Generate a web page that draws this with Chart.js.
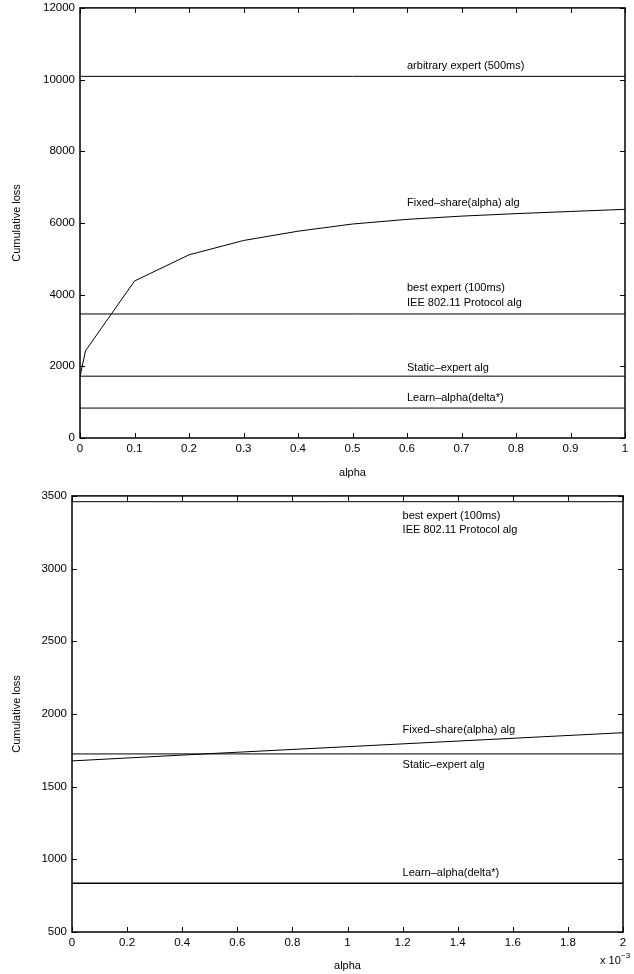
<!DOCTYPE html>
<html>
<head>
<meta charset="utf-8">
<script src="https://cdn.jsdelivr.net/npm/chart.js@4/dist/chart.umd.min.js"></script>
<style>
  body { margin: 0; background: #fff; width: 634px; height: 974px; overflow: hidden; position: relative; }
  .box { position: absolute; left: 0; width: 634px; }
</style>
</head>
<body>
<div class="box" style="top:-4px;height:494px"><canvas id="top"></canvas></div>
<div class="box" style="top:484px;height:490px"><canvas id="bot"></canvas></div>
<script>
// ---- data ----
// top panel: alpha in [0, 1]
const topAlpha      = [0, 0.01, 0.1, 0.2, 0.3, 0.4, 0.5, 0.6, 0.7, 0.8, 0.9, 1.0];
const topFixedShare = [1710, 2430, 4380, 5110, 5510, 5770, 5970, 6100, 6190, 6260, 6320, 6380];
const arbitraryExpert = 10090;   // 500ms expert
const bestExpert      = 3460;    // 100ms expert / 802.11
const staticExpert    = 1725;
const learnAlpha      = 835;

// bottom panel: alpha in [0, 2e-3]
const botAlpha      = [0, 0.0005, 0.001, 0.0015, 0.002];
const botFixedShare = [1677, 1727, 1775, 1823, 1871];

// annotations (data coords)
const topLabels  = ['arbitrary expert (500ms)', 'Fixed\u2013share(alpha) alg', 'best expert (100ms)',
                    'IEE 802.11 Protocol alg', 'Static\u2013expert alg', 'Learn\u2013alpha(delta*)'];
const topLabelX  = [0.6, 0.6, 0.6, 0.6, 0.6, 0.6];
const topLabelY  = [10380, 6570, 4180, 3760, 1950, 1115];

const botLabels  = ['best expert (100ms)', 'IEE 802.11 Protocol alg', 'Fixed\u2013share(alpha) alg',
                    'Static\u2013expert alg', 'Learn\u2013alpha(delta*)'];
const botLabelX  = [0.0012, 0.0012, 0.0012, 0.0012, 0.0012];
const botLabelY  = [3365, 3266, 1890, 1650, 905];

const FONT = '"Liberation Sans", Arial, Helvetica, sans-serif';

function hline(v, xs) { return [{x: xs[0], y: v}, {x: xs[1], y: v}]; }
function series(xs, ys) { return xs.map((x, k) => ({x, y: ys[k]})); }

function ds(data, width) {
  return { data, borderColor: '#000', borderWidth: width || 1, pointRadius: 0, fill: false, tension: 0 };
}

// matlab-style box with inward ticks + text annotations
const framePlugin = {
  id: 'frame',
  afterDatasetsDraw(chart, args, opts) {
    const { ctx, chartArea: a, scales: { x, y } } = chart;
    ctx.save();
    ctx.strokeStyle = '#000';
    ctx.lineWidth = 1;
    ctx.beginPath();
    x.ticks.forEach(t => {
      const px = Math.round(x.getPixelForValue(t.value)) + 0.5;
      ctx.moveTo(px, a.bottom); ctx.lineTo(px, a.bottom - 5);
      ctx.moveTo(px, a.top);    ctx.lineTo(px, a.top + 5);
    });
    y.ticks.forEach(t => {
      const py = Math.round(y.getPixelForValue(t.value)) + 0.5;
      ctx.moveTo(a.left, py);  ctx.lineTo(a.left + 5, py);
      ctx.moveTo(a.right, py); ctx.lineTo(a.right - 5, py);
    });
    ctx.stroke();
    ctx.lineWidth = 1.5;
    ctx.strokeRect(a.left, a.top, a.right - a.left, a.bottom - a.top);

    ctx.fillStyle = '#000';
    ctx.font = '11px ' + FONT;
    ctx.textBaseline = 'middle';
    ctx.textAlign = 'left';
    opts.text.forEach((s, k) => {
      ctx.fillText(s, x.getPixelForValue(opts.x[k]), y.getPixelForValue(opts.y[k]));
    });
    if (opts.exponent) {
      ctx.fillText('x 10', a.right - 23, a.bottom + 29);
      ctx.font = '8px ' + FONT;
      ctx.fillText('\u22123', a.right - 2, a.bottom + 24);
    }
    ctx.restore();
  }
};

function makeOptions(cfg) {
  return {
    responsive: true,
    maintainAspectRatio: false,
    animation: false,
    layout: { padding: cfg.padding },
    plugins: {
      legend: { display: false },
      tooltip: { enabled: false },
      frame: cfg.frame,
    },
    scales: {
      x: {
        type: 'linear', min: cfg.xMin, max: cfg.xMax,
        grid: { display: false, drawTicks: false },
        border: { display: false },
        afterFit: s => { s.height = cfg.xHeight; },
        ticks: {
          stepSize: cfg.xStep, padding: 4, color: '#000',
          font: { family: FONT, size: 11.5 },
          maxRotation: 0, autoSkip: false,
          callback: cfg.xFmt,
        },
        title: { display: true, text: 'alpha', color: '#000', font: { family: FONT, size: 11 },
                 padding: { top: 0, bottom: cfg.xTitlePad } },
      },
      y: {
        type: 'linear', min: cfg.yMin, max: cfg.yMax,
        grid: { display: false, drawTicks: false },
        border: { display: false },
        afterFit: s => { s.width = cfg.yWidth; },
        ticks: {
          stepSize: cfg.yStep, padding: 5, color: '#000',
          font: { family: FONT, size: 11.5 }, autoSkip: false,
          callback: v => String(v),
        },
        title: { display: true, text: 'Cumulative loss', color: '#000', font: { family: FONT, size: 11 },
                 padding: { top: 10, bottom: 0 } },
      },
    },
  };
}

const topX = [0, 1];
new Chart(document.getElementById('top'), {
  type: 'line',
  data: {
    datasets: [
      ds(hline(arbitraryExpert, topX)),
      ds(series(topAlpha, topFixedShare)),
      ds(hline(bestExpert, topX)),
      ds(hline(staticExpert, topX)),
      ds(hline(learnAlpha, topX)),
    ]
  },
  options: makeOptions({
    padding: { top: 0, right: 9, left: 0, bottom: 0 },
    xMin: 0, xMax: 1, xStep: 0.1, xHeight: 52, xTitlePad: 10,
    xFmt: v => String(Math.round(v * 10) / 10),
    yMin: 0, yMax: 12000, yStep: 2000, yWidth: 80,
    frame: { text: topLabels, x: topLabelX, y: topLabelY },
  }),
  plugins: [framePlugin],
});

const botX = [0, 0.002];
new Chart(document.getElementById('bot'), {
  type: 'line',
  data: {
    datasets: [
      ds(hline(bestExpert, botX)),
      ds(series(botAlpha, botFixedShare)),
      ds(hline(staticExpert, botX)),
      ds(hline(learnAlpha, botX), 1.5),
    ]
  },
  options: makeOptions({
    padding: { top: 0, right: 11, left: 0, bottom: 0 },
    xMin: 0, xMax: 0.002, xStep: 0.0002, xHeight: 42, xTitlePad: 1,
    xFmt: v => String(Math.round(v * 10000) / 10),
    yMin: 500, yMax: 3500, yStep: 500, yWidth: 72,
    frame: { text: botLabels, x: botLabelX, y: botLabelY, exponent: true },
  }),
  plugins: [framePlugin],
});
</script>
</body>
</html>
